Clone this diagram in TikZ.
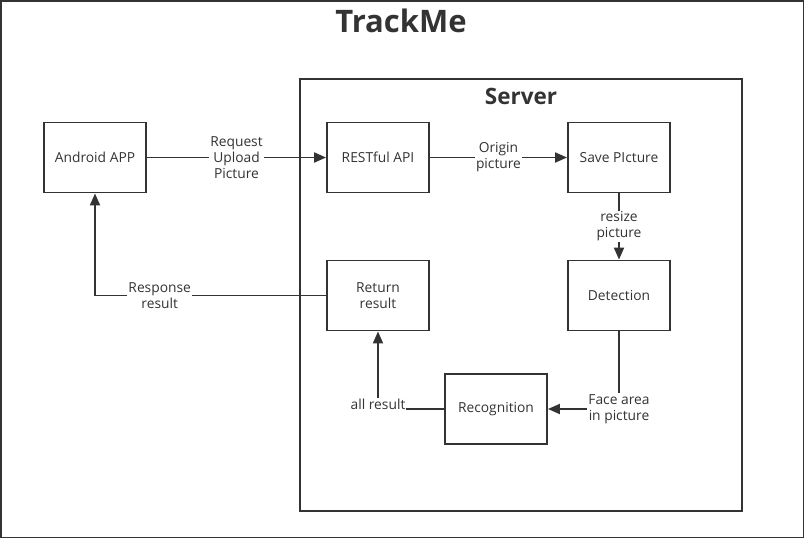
\documentclass[tikz,border=0pt]{standalone}
\usepackage{fontspec}
\setmainfont{Open Sans}
\usetikzlibrary{arrows.meta, positioning}
\definecolor{cline}{HTML}{333333}
\tikzset{
  every picture/.style={line width=1.9pt},
  block/.style={draw=cline, text=cline, minimum width=102pt, minimum height=70pt, align=center, font=\fontsize{13.8}{16}\selectfont},
  link/.style={draw=cline, -{Triangle[length=12pt, width=10pt]}},
  plain/.style={draw=cline},
  lbl/.style={fill=white, text=cline, align=center, inner sep=1pt, font=\fontsize{13.8}{16}\selectfont},
  title/.style={text=cline, font=\bfseries\fontsize{31}{34}\selectfont},
}

\begin{document}
\begin{tikzpicture}[x=1pt, y=-1pt]
  \useasboundingbox (0,0) rectangle (805,539);
  \draw[cline, line width=1.6pt] (0.8,0.8) rectangle (803.5,537.5);
  \node[title] (head) at (401,21) {TrackMe};
  % server frame
  \draw[cline] (300,79) rectangle (742,511);
  \node[title, font=\bfseries\fontsize{22.5}{26}\selectfont] (srv) at (521,96) {Server};
  % blocks
  \node[block] (app) at (95,157.5) {Android APP};
  \node[block] (rest) at (378,157.5) {RESTful API};
  \node[block] (save) at (619,157.5) {Save PIcture};
  \node[block] (detect) at (619,295.5) {Detection};
  \node[block] (ret) at (378,295.5) {Return\\result};
  \node[block] (recog) at (496,409) {Recognition};
  % connectors
  \draw[link] (app) -- node[lbl] {Request\\Upload\\Picture} (rest);
  \draw[link] (rest) -- node[lbl] {Origin\\picture} (save);
  \draw[link] (save) -- node[lbl] {resize\\picture} (detect);
  \draw[link] (detect.south) |- node[lbl] {Face area\\in picture} (recog.east);
  \draw[link] (recog.west) -| node[lbl, yshift=5pt] {all result} (ret.south);
  \draw[link] (ret.west) -| node[lbl, pos=0.36] {Response\\result} (app.south);
\end{tikzpicture}
\end{document}
